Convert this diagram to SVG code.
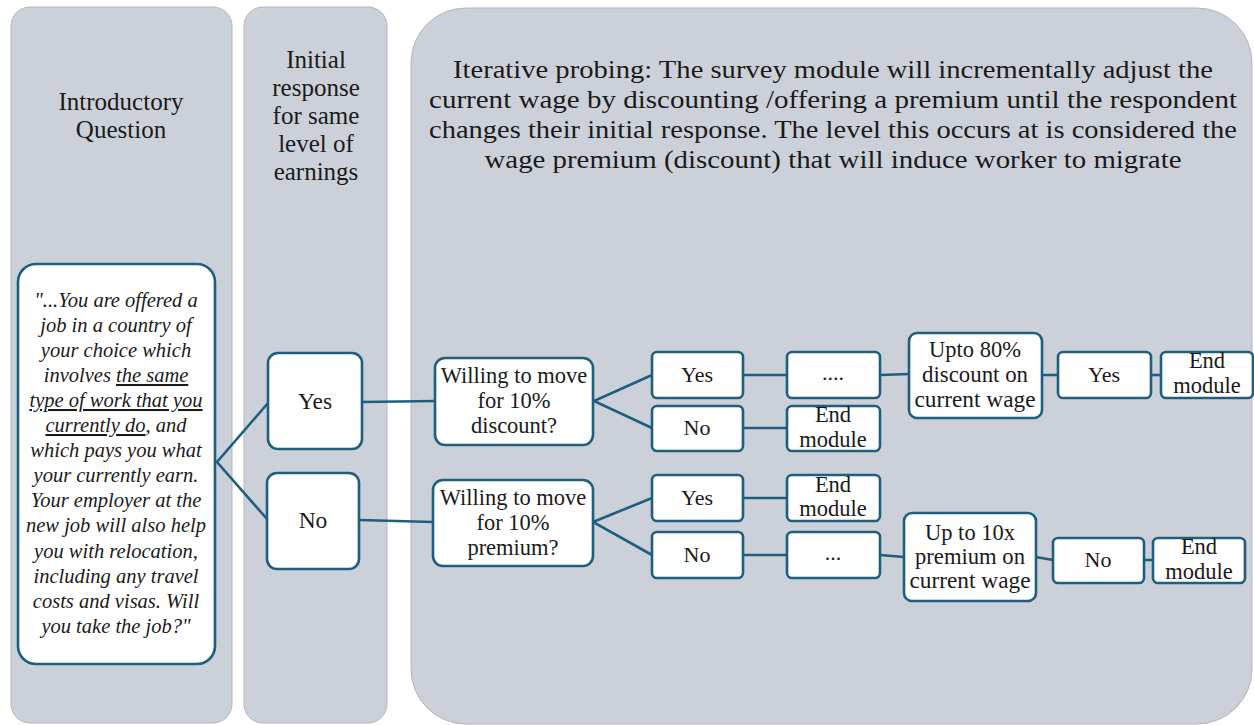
<svg xmlns="http://www.w3.org/2000/svg" width="1254" height="725" viewBox="0 0 1254 725">
<defs>
<style>
.panel{fill:#ccd1d9;stroke:#b3b6ba;stroke-width:1}
.box{fill:#ffffff;stroke:#1f5f7e;stroke-width:2.6}
.ln{fill:none;stroke:#1f5f7e;stroke-width:2.6}
text{font-family:"Liberation Serif","Times New Roman",serif;fill:#1a1a1a;text-anchor:middle}
.t25{font-size:25px}
.t23{font-size:23.5px}
.t22{font-size:22.5px}
.t21{font-size:22px}
.q{font-size:20.5px;font-style:italic}
.title{font-size:25px}
.u{text-decoration:underline}
</style>
</defs>
<rect width="1254" height="725" fill="#ffffff"/>
<g id="panel-intro">
<rect class="panel" x="11" y="7" width="221" height="716" rx="19"/>
<text class="t25" x="121" y="110">Introductory</text>
<text class="t25" x="121" y="138">Question</text>
</g>
<g id="panel-initial">
<rect class="panel" x="244" y="7" width="143" height="716" rx="19"/>
<text class="t25" x="316" y="68">Initial</text>
<text class="t25" x="316" y="96">response</text>
<text class="t25" x="316" y="124">for same</text>
<text class="t25" x="316" y="152">level of</text>
<text class="t25" x="316" y="180">earnings</text>
</g>
<g id="panel-iterative">
<rect class="panel" x="411" y="8" width="841" height="716" rx="55"/>
<text class="title" x="833" y="78" textLength="760" lengthAdjust="spacingAndGlyphs">Iterative probing: The survey module will incrementally adjust the</text>
<text class="title" x="833" y="108" textLength="808" lengthAdjust="spacingAndGlyphs">current wage by discounting /offering a premium until the respondent</text>
<text class="title" x="833" y="138" textLength="808" lengthAdjust="spacingAndGlyphs">changes their initial response. The level this occurs at is considered the</text>
<text class="title" x="833" y="168" textLength="697" lengthAdjust="spacingAndGlyphs">wage premium (discount) that will induce worker to migrate</text>
</g>
<g id="connectors">
<polyline class="ln" points="268,403 217,462 267,519"/>
<line class="ln" x1="362" y1="402" x2="435" y2="401"/>
<line class="ln" x1="359" y1="520" x2="433" y2="522"/>
<polyline class="ln" points="652,375 594,401 652,428"/>
<polyline class="ln" points="652,498 593,522 652,555"/>
<line class="ln" x1="743" y1="375" x2="787" y2="375"/>
<line class="ln" x1="743" y1="428" x2="787" y2="428"/>
<line class="ln" x1="743" y1="498" x2="787" y2="498"/>
<line class="ln" x1="743" y1="555" x2="787" y2="555"/>
<line class="ln" x1="880" y1="375" x2="909" y2="374"/>
<line class="ln" x1="880" y1="555" x2="904" y2="557"/>
<line class="ln" x1="1042" y1="375" x2="1058" y2="375"/>
<line class="ln" x1="1151" y1="375" x2="1161" y2="375"/>
<line class="ln" x1="1036" y1="557" x2="1053" y2="560"/>
<line class="ln" x1="1144" y1="560" x2="1153" y2="560"/>
</g>
<g id="node-question">
<rect class="box" x="18" y="264" width="197" height="400" rx="18"/>
<text class="q" x="116" y="307">"...You are offered a</text>
<text class="q" x="116" y="332">job in a country of</text>
<text class="q" x="116" y="357">your choice which</text>
<text class="q" x="116" y="382">involves <tspan class="u">the same</tspan></text>
<text class="q" x="116" y="407"><tspan class="u">type of work that you</tspan></text>
<text class="q" x="116" y="432"><tspan class="u">currently do</tspan>, and</text>
<text class="q" x="116" y="457">which pays you what</text>
<text class="q" x="116" y="482">your currently earn.</text>
<text class="q" x="116" y="507">Your employer at the</text>
<text class="q" x="116" y="532">new job will also help</text>
<text class="q" x="116" y="558">you with relocation,</text>
<text class="q" x="116" y="583">including any travel</text>
<text class="q" x="116" y="608">costs and visas. Will</text>
<text class="q" x="116" y="633">you take the job?"</text>
</g>
<g id="node-yes">
<rect class="box" x="268" y="353" width="94" height="96" rx="10"/>
<text class="t23" x="315" y="409">Yes</text>
</g>
<g id="node-no">
<rect class="box" x="267" y="473" width="92" height="96" rx="10"/>
<text class="t23" x="313" y="528">No</text>
</g>
<g id="node-discount">
<rect class="box" x="435" y="358" width="158" height="87" rx="10"/>
<text class="t22" x="514" y="383">Willing to move</text>
<text class="t22" x="514" y="408">for 10%</text>
<text class="t22" x="514" y="433">discount?</text>
</g>
<g id="node-premium">
<rect class="box" x="433" y="480" width="160" height="86" rx="10"/>
<text class="t22" x="513" y="505">Willing to move</text>
<text class="t22" x="513" y="530">for 10%</text>
<text class="t22" x="513" y="555">premium?</text>
</g>
<g id="node-yes1">
<rect class="box" x="652" y="352" width="91" height="46" rx="5"/>
<text class="t21" x="697" y="382">Yes</text>
</g>
<g id="node-no1">
<rect class="box" x="652" y="406" width="91" height="45" rx="5"/>
<text class="t21" x="697" y="435">No</text>
</g>
<g id="node-dots1">
<rect class="box" x="787" y="352" width="93" height="46" rx="5"/>
<text class="t21" x="833" y="380">....</text>
</g>
<g id="node-end1">
<rect class="box" x="787" y="406" width="93" height="45" rx="5"/>
<text class="t22" x="833" y="422">End</text>
<text class="t22" x="833" y="447">module</text>
</g>
<g id="node-yes2">
<rect class="box" x="652" y="475" width="91" height="46" rx="5"/>
<text class="t21" x="697" y="505">Yes</text>
</g>
<g id="node-no2">
<rect class="box" x="652" y="532" width="91" height="46" rx="5"/>
<text class="t21" x="697" y="562">No</text>
</g>
<g id="node-end2">
<rect class="box" x="787" y="475" width="93" height="46" rx="5"/>
<text class="t22" x="833" y="492">End</text>
<text class="t22" x="833" y="516">module</text>
</g>
<g id="node-dots2">
<rect class="box" x="787" y="532" width="93" height="46" rx="5"/>
<text class="t21" x="833" y="560">...</text>
</g>
<g id="node-upto80">
<rect class="box" x="909" y="333" width="133" height="85" rx="8"/>
<text class="t22" x="975" y="357">Upto 80%</text>
<text class="t22" x="975" y="382" textLength="106" lengthAdjust="spacingAndGlyphs">discount on</text>
<text class="t22" x="975" y="407" textLength="121" lengthAdjust="spacingAndGlyphs">current wage</text>
</g>
<g id="node-yes3">
<rect class="box" x="1058" y="352" width="93" height="46" rx="5"/>
<text class="t21" x="1104" y="382">Yes</text>
</g>
<g id="node-end3">
<rect class="box" x="1161" y="352" width="92" height="46" rx="5"/>
<text class="t22" x="1207" y="368">End</text>
<text class="t22" x="1207" y="393">module</text>
</g>
<g id="node-upto10x">
<rect class="box" x="904" y="513" width="132" height="88" rx="8"/>
<text class="t22" x="970" y="540">Up to 10x</text>
<text class="t22" x="970" y="564" textLength="110" lengthAdjust="spacingAndGlyphs">premium on</text>
<text class="t22" x="970" y="588" textLength="121" lengthAdjust="spacingAndGlyphs">current wage</text>
</g>
<g id="node-no3">
<rect class="box" x="1053" y="538" width="91" height="45" rx="5"/>
<text class="t21" x="1098" y="567">No</text>
</g>
<g id="node-end4">
<rect class="box" x="1153" y="538" width="92" height="45" rx="5"/>
<text class="t22" x="1199" y="554">End</text>
<text class="t22" x="1199" y="579">module</text>
</g>
</svg>
